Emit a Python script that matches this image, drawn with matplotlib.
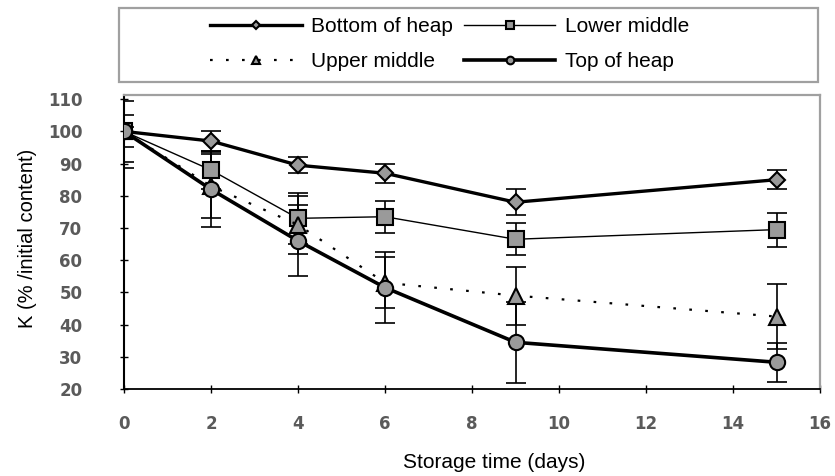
import matplotlib.pyplot as plt
from matplotlib.patches import Rectangle

# data
days = [0, 2, 4, 6, 9, 15]
bottom = [100, 97, 89.5, 87, 78, 85]
bottom_err = [1.5, 3, 2.5, 3, 4, 3]
lower = [100, 88, 73, 73.5, 66.5, 69.5]
lower_err = [5, 6, 8, 5, 5, 5.3]
upper = [100, 83, 71, 53, 49, 42.5]
upper_err = [9.5, 10, 9, 8, 9, 10]
top = [100, 82, 66, 51.5, 34.5, 28.3]
top_err = [11.5, 11.7, 11, 11, 12.5, 6]
names = ['Bottom of heap', 'Lower middle', 'Upper middle', 'Top of heap']

plt.rcParams['font.family'] = ['Liberation Sans', 'DejaVu Sans']

W, H = 835, 476
fig = plt.figure(figsize=(W / 100, H / 100), dpi=100)
ax = fig.add_axes([124 / W, 1 - 389 / H, (820 - 124) / W, (389 - 95) / H])

fill = '#9a9a9a'
series = [
    (bottom, bottom_err, dict(lw=2.4, ls='-', marker='D', ms=8.5)),
    (lower, lower_err, dict(lw=1.0, ls='-', marker='s', ms=11)),
    (upper, upper_err, dict(lw=1.6, ls=(0, (1.2, 6)), marker='^', ms=11)),
    (top, top_err, dict(lw=2.6, ls='-', marker='o', ms=11)),
]
handles = []
for (vals, err, st), nm in zip(series, names):
    ax.errorbar(days, vals, yerr=err, fmt='none', ecolor='black', elinewidth=1.2,
                capsize=7, capthick=1.2, zorder=2)
    ln, = ax.plot(days, vals, color='black', lw=st['lw'], ls=st['ls'], marker=st['marker'],
                  ms=st['ms'], mfc=fill, mec='black', mew=1.5, zorder=3, label=nm)
    handles.append(ln)

ax.set_xlim(0, 16)
ax.set_ylim(20, 111.3)
ax.set_xticks(range(0, 17, 2))
ax.set_yticks(range(20, 111, 10))
ax.tick_params(direction='inout', length=6, width=1, colors='black', labelcolor='#5a5a5a')
ax.tick_params(axis='y', pad=27)
ax.tick_params(axis='x', pad=16)
for lab in ax.get_xticklabels() + ax.get_yticklabels():
    lab.set_family('DejaVu Sans')
    lab.set_fontsize(12)
    lab.set_weight('bold')
ax.spines['left'].set_linewidth(1.5)
ax.spines['bottom'].set_linewidth(1.3)
for s in ['top', 'right']:
    ax.spines[s].set_color('#a0a0a0')
    ax.spines[s].set_linewidth(1.6)

fig.text(494 / W, 1 - 462 / H, 'Storage time (days)', ha='center', va='center', fontsize=15)
fig.text(28 / W, 1 - 238 / H, 'K (% /initial content)', ha='center', va='center',
         rotation=90, fontsize=14.5)

# legend box
fig.patches.append(Rectangle((119 / W, 1 - 82 / H), (818 - 119) / W, (82 - 8) / H,
                             transform=fig.transFigure, fill=False, ec='#a0a0a0', lw=1.6))
order = [handles[0], handles[2], handles[1], handles[3]]
fig.legend(order, [h.get_label() for h in order], ncol=2, loc='upper left',
           bbox_to_anchor=(200 / W, 1 - 7 / H), frameon=False, fontsize=15,
           borderpad=0, handlelength=4.4, handletextpad=0.45, columnspacing=0.5,
           labelspacing=0.75, markerscale=0.5)

fig.savefig('out.png', dpi=100)
